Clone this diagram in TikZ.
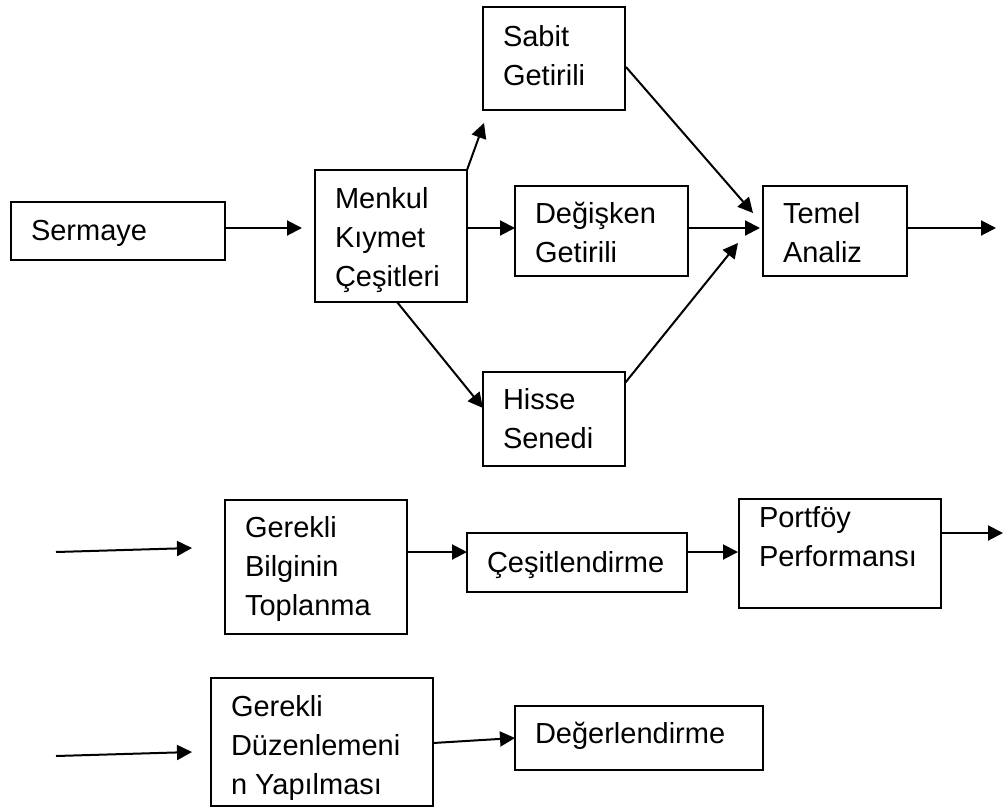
\documentclass[tikz,border=0pt]{standalone}
\usepackage{fontspec}
\setmainfont{Liberation Sans}
\usetikzlibrary{arrows.meta,calc}

% lines of a box label, stacked from the first baseline down
\newcommand\stacklines[1]{\vtop{\baselineskip=39pt\lineskiplimit=-100pt\lineskip=0pt\halign{##\hfil\cr#1\crcr}}}

% box: name, left, top, right, bottom, first baseline below top, text
\newcommand\flowbox[7]{%
  \node[box, anchor=north west, minimum width={#4pt-#2pt}, minimum height={#5pt-#3pt}] (#1) at (#2,#3) {};
  \node[lbl, anchor=base west] (#1-t) at (#2+20,#3+#6) {\stacklines{#7}};
}

\tikzset{
  box/.style={draw=black, line width=2pt, inner sep=0pt, outer sep=0pt, fill=white},
  lbl/.style={inner sep=0pt, outer sep=0pt, font=\fontsize{29}{39}\selectfont},
  arr/.style={draw=black, line width=2pt, -{Triangle[length=15pt,width=15pt]}},
}

\begin{document}
\begin{tikzpicture}[x=1pt, y=-1pt]
  \useasboundingbox[fill=white] (0,0) rectangle (1004,807);

  % upper chain
  \flowbox{sermaye}{11}{202}{225}{260}{38}{Sermaye}
  \flowbox{menkul}{315}{170}{467}{302}{38}{Menkul\cr Kıymet\cr Çeşitleri}
  \flowbox{sabit}{483}{7}{625}{110}{39}{Sabit\cr Getirili}
  \flowbox{degisken}{515}{186}{688}{276}{37}{Değişken\cr Getirili}
  \flowbox{temel}{763}{186}{907}{276}{37}{Temel\cr Analiz}
  \flowbox{hisse}{483}{372}{625}{466}{37}{Hisse\cr Senedi}

  % middle chain
  \flowbox{bilgi}{225}{500}{407}{634}{37}{Gerekli\cr Bilginin\cr Toplanma}
  \flowbox{cesit}{467}{533}{687}{592}{39}{Çeşitlendirme}
  \flowbox{portfoy}{739}{499}{941}{608}{28}{Portföy\cr Performansı}

  % lower chain
  \flowbox{duzen}{211}{678}{433}{806}{38}{Gerekli\cr Düzenlemeni\cr n Yapılması}
  \flowbox{deger}{515}{706}{763}{770}{37}{Değerlendirme}

  % free ends
  \coordinate (in1) at (56,552);
  \coordinate (in2) at (56,756);
  \coordinate (out1) at (996,228);
  \coordinate (out2) at (1003,533);

  % connectors
  \draw[arr] ($(sermaye.north east)+(0,26)$) -- ($(menkul.north west)+(-13,58)$);
  \draw[arr] (menkul.north east) -- ($(sabit.south west)+(1,13)$);
  \draw[arr] ($(menkul.north east)+(0,58)$) -- ($(degisken.north west)+(0,42)$);
  \draw[arr] ($(menkul.south west)+(82,0)$) -- ($(hisse.north west)+(0,36)$);
  \draw[arr] ($(degisken.north east)+(0,42)$) -- ($(temel.north west)+(-3,42)$);
  \draw[arr] ($(sabit.north east)+(1,60)$) -- ($(temel.north west)+(-10,27)$);
  \draw[arr] ($(hisse.north east)+(0,11)$) -- ($(temel.south west)+(-25,-33)$);
  \draw[arr] ($(temel.north east)+(0,42)$) -- (out1);

  \draw[arr] (in1) -- ($(bilgi.north west)+(-33,48)$);
  \draw[arr] ($(bilgi.north east)+(0,52)$) -- ($(cesit.north west)+(0,19)$);
  \draw[arr] ($(cesit.north east)+(0,19)$) -- ($(portfoy.north west)+(-1,53)$);
  \draw[arr] ($(portfoy.north east)+(0,34)$) -- (out2);

  \draw[arr] (in2) -- ($(duzen.north west)+(-19,74)$);
  \draw[arr] ($(duzen.north east)+(0,65)$) -- ($(deger.north west)+(0,32)$);
\end{tikzpicture}
\end{document}
